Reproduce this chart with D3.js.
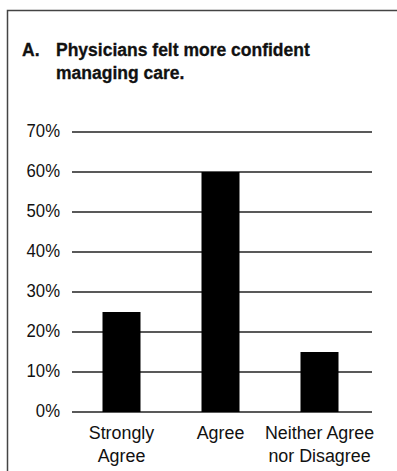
<!DOCTYPE html>
<html><head><meta charset="utf-8">
<script src="https://cdn.jsdelivr.net/npm/d3@7/dist/d3.min.js"></script>
<style>
html,body{margin:0;padding:0;background:#fff;}
svg{display:block;}
</style></head>
<body>
<svg id="c" width="397" height="471"></svg>
<script>
const categories = [["Strongly","Agree"],["Agree"],["Neither Agree","nor Disagree"]];
const values = [25, 60, 15];
const yTicks = [0,10,20,30,40,50,60,70];
const titleLines = ["A.", "Physicians felt more confident", "managing care."];

const font = "'Liberation Sans',Arial,sans-serif";
const svg = d3.select("#c");

// frame
svg.append("path").attr("d","M7.5,471 V10.5 H397")
  .attr("fill","none").attr("stroke","#444").attr("stroke-width",1.5);

// title
const t = svg.append("text").attr("font-family",font).attr("font-weight","bold")
  .attr("font-size",17.5).attr("fill","#111").attr("stroke","#111").attr("stroke-width",0.3);
t.append("tspan").attr("x",22).attr("y",56).text(titleLines[0]);
t.append("tspan").attr("x",56).attr("y",56).text(titleLines[1]);
t.append("tspan").attr("x",56).attr("y",79).text(titleLines[2]);

const y = d3.scaleLinear().domain([0,70]).range([412,132]);
const x = d3.scaleBand().domain(categories.map(d=>d.join(" "))).range([72,369]).padding(0);

// gridlines
svg.append("g").selectAll("line").data(yTicks).join("line")
  .attr("x1",72).attr("x2",372)
  .attr("y1",d=>y(d)).attr("y2",d=>y(d))
  .attr("stroke","#222").attr("stroke-width",1.5);

// y labels
svg.append("g").selectAll("text").data(yTicks).join("text")
  .attr("transform",d=>`translate(60,${y(d)+4.5}) scale(0.88,1)`)
  .attr("text-anchor","end").attr("font-family",font).attr("font-size",19).attr("fill","#111")
  .text(d=>d+"%");

// bars
const bw = 38;
svg.append("g").selectAll("rect").data(values).join("rect")
  .attr("x",(d,i)=>x(categories[i].join(" "))+x.bandwidth()/2-bw/2)
  .attr("width",bw)
  .attr("y",d=>y(d)).attr("height",d=>y(0)-y(d))
  .attr("fill","#000");

// x labels
const xl = svg.append("g");
categories.forEach((c,i)=>{
  const cx = x(c.join(" "))+x.bandwidth()/2;
  c.forEach((line,j)=>xl.append("text")
    .attr("transform",`translate(${cx},${438.5+j*23}) scale(0.94,1)`)
    .attr("text-anchor","middle").attr("font-family",font)
    .attr("font-size",19).attr("fill","#111").text(line));
});
</script>
</body></html>
